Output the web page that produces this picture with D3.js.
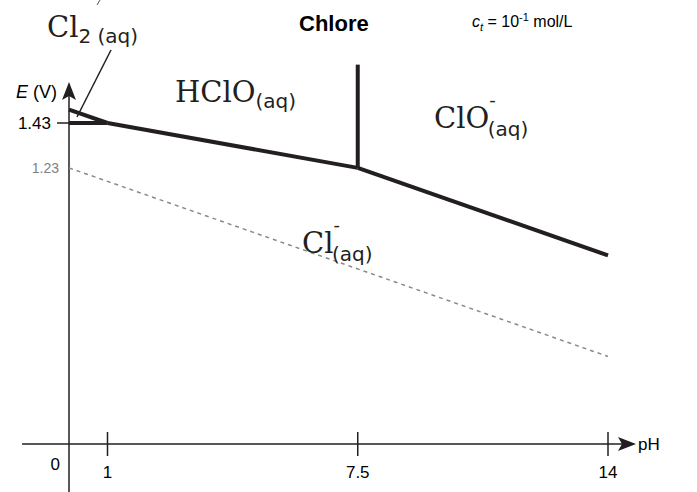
<!DOCTYPE html>
<html>
<head>
<meta charset="utf-8">
<script src="https://cdn.jsdelivr.net/npm/d3@7"></script>
<style>
  body { margin: 0; background: #fff; }
  svg { display: block; }
</style>
</head>
<body>
<svg width="697" height="492"></svg>
<script>
// pH ticks and E ticks
const phTicks = [1, 7.5, 14];
const eTicks = [1.43];
const eRef = 1.23;

// frontier lines, [pH, E]
const cl2Hclo = [[0, 1.49], [1, 1.43]];
const cl2Cl = [[0, 1.43], [1, 1.43]];
const hcloCl = [[1, 1.43], [7.5, 1.23]];
const cloCl = [[7.5, 1.23], [14, 0.84]];
const hcloClo = [[7.5, 1.23], [7.5, 1.69]];
const waterLine = [[0, 1.23], [14, 0.39]];

const svg = d3.select("svg");
const serif = "'DejaVu Serif', serif";
const sans = "'Liberation Sans', Arial, sans-serif";
const sans2 = "'DejaVu Sans', sans-serif";

const x = d3.scaleLinear().domain([0, 14]).range([69, 608]);
const y = d3.scaleLinear().domain([0, 1.43]).range([444, 123]);

// arrow marker
svg.append("defs")
    .append("marker")
    .attr("id", "arrow")
    .attr("viewBox", "0 -7 18 14")
    .attr("refX", 16)
    .attr("refY", 0)
    .attr("markerWidth", 18)
    .attr("markerHeight", 14)
    .attr("markerUnits", "userSpaceOnUse")
    .attr("orient", "auto")
    .append("path")
    .attr("d", "M0,-7L18,0L0,7L4,0Z")
    .attr("fill", "#231f20");

// axes
svg.append("line")
    .attr("x1", 22).attr("x2", 634)
    .attr("y1", y(0)).attr("y2", y(0))
    .attr("stroke", "#231f20").attr("stroke-width", 1.5)
    .attr("marker-end", "url(#arrow)");
svg.append("line")
    .attr("x1", x(0)).attr("x2", x(0))
    .attr("y1", 492).attr("y2", 84)
    .attr("stroke", "#231f20").attr("stroke-width", 1.5)
    .attr("marker-end", "url(#arrow)");

// x ticks
svg.selectAll(".xt")
    .data(phTicks)
    .enter()
    .append("line")
    .attr("x1", d => x(d)).attr("x2", d => x(d))
    .attr("y1", y(0) - 12).attr("y2", y(0) + 12)
    .attr("stroke", "#231f20").attr("stroke-width", 1.5);

svg.selectAll(".xl")
    .data(phTicks)
    .enter()
    .append("text")
    .attr("x", d => x(d))
    .attr("y", y(0) + 34)
    .attr("text-anchor", "middle")
    .style("font-family", sans).style("font-size", "17px")
    .text(d => d);

svg.append("text")
    .attr("x", x(0) - 9).attr("y", y(0) + 26)
    .attr("text-anchor", "end")
    .style("font-family", sans).style("font-size", "17px")
    .text("0");

svg.append("text")
    .attr("x", 638).attr("y", y(0) + 6)
    .style("font-family", sans).style("font-size", "17px")
    .text("pH");

// y ticks
svg.selectAll(".yt")
    .data(eTicks)
    .enter()
    .append("line")
    .attr("x1", x(0) - 12).attr("x2", x(0))
    .attr("y1", d => y(d)).attr("y2", d => y(d))
    .attr("stroke", "#231f20").attr("stroke-width", 1.5);

svg.selectAll(".yl")
    .data(eTicks)
    .enter()
    .append("text")
    .attr("x", x(0) - 18)
    .attr("y", d => y(d) + 6)
    .attr("text-anchor", "end")
    .style("font-family", sans).style("font-size", "17px")
    .text(d => d.toFixed(2));

svg.append("text")
    .attr("x", x(0) - 10)
    .attr("y", y(eRef) + 5)
    .attr("text-anchor", "end")
    .attr("fill", "#808080")
    .style("font-family", sans).style("font-size", "14px")
    .text(eRef.toFixed(2));

const ylab = svg.append("text")
    .attr("x", 16).attr("y", 98)
    .style("font-family", sans).style("font-size", "18px");
ylab.append("tspan").style("font-style", "italic").text("E");
ylab.append("tspan").text(" (V)");

// water line (dashed)
const line = d3.line().x(d => x(d[0])).y(d => y(d[1]));
svg.append("path")
    .attr("d", line(waterLine))
    .attr("fill", "none")
    .attr("stroke", "#8a8a8a")
    .attr("stroke-width", 1.5)
    .attr("stroke-dasharray", "4,4");

// frontiers
[cl2Hclo, cl2Cl, hcloCl, cloCl, hcloClo].forEach(pts => {
    svg.append("path")
        .attr("d", line(pts))
        .attr("fill", "none")
        .attr("stroke", "#231f20")
        .attr("stroke-width", 4)
        .attr("stroke-linecap", "butt");
});

// leader line for Cl2
svg.append("line")
    .attr("x1", 111).attr("y1", 50)
    .attr("x2", 77).attr("y2", 117)
    .attr("stroke", "#231f20").attr("stroke-width", 1.5);

// small stray stroke at the top edge
svg.append("line")
    .attr("x1", 100).attr("y1", 0)
    .attr("x2", 97).attr("y2", 5)
    .attr("stroke", "#555").attr("stroke-width", 1);

// species labels
function species(xp, yp, main, sup, sub, subDy) {
    const t = svg.append("text")
        .attr("x", xp).attr("y", yp)
        .attr("fill", "#231f20");
    t.append("tspan").style("font-family", serif).style("font-size", "29px").text(main);
    let back = 0;
    if (sup) {
        t.append("tspan").attr("dy", -22).style("font-family", sans2).style("font-size", "18px").text(sup);
        back = 22;
    }
    t.append("tspan").attr("dy", subDy + back).attr("dx", sup ? -8 : 0)
        .style("font-family", sans2).style("font-size", "20px").text(sub);
}
species(47, 37, "Cl", null, "2 (aq)", 6);
species(175, 102, "HClO", null, "(aq)", 6);
species(434, 128, "ClO", "-", "(aq)", 8);
species(302, 253, "Cl", "-", "(aq)", 8);

// title
svg.append("text")
    .attr("x", 299).attr("y", 31)
    .style("font-family", sans).style("font-weight", "bold").style("font-size", "22px")
    .text("Chlore");

const ct = svg.append("text")
    .attr("x", 472).attr("y", 27)
    .style("font-family", sans).style("font-size", "16px");
ct.append("tspan").style("font-style", "italic").text("c");
ct.append("tspan").attr("dy", 4).style("font-style", "italic").style("font-size", "11px").text("t");
ct.append("tspan").attr("dy", -4).text(" = 10");
ct.append("tspan").attr("dy", -6).style("font-size", "11px").text("-1");
ct.append("tspan").attr("dy", 6).text(" mol/L");
</script>
</body>
</html>
